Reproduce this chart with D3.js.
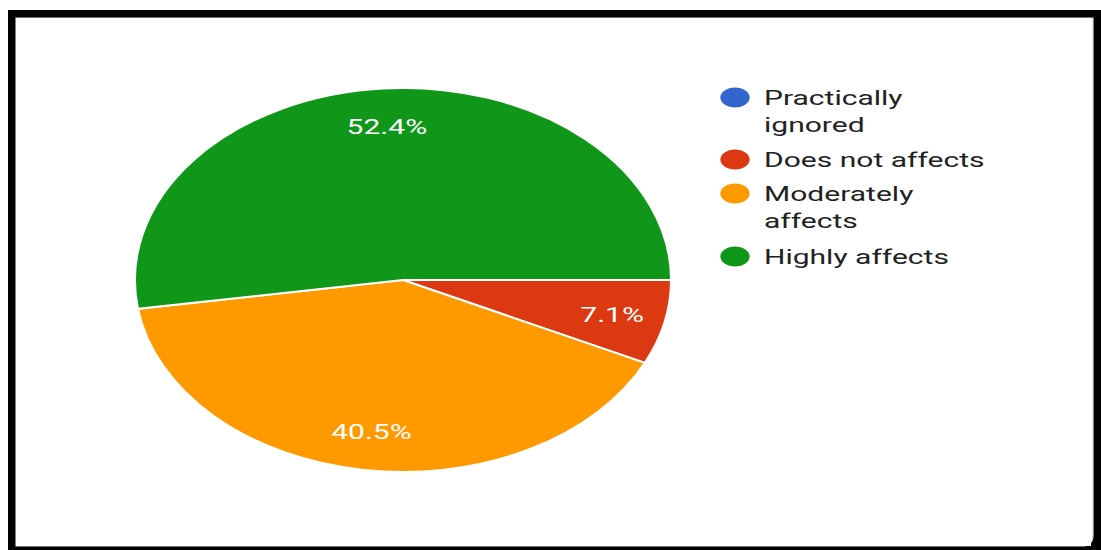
<!DOCTYPE html>
<html>
<head>
<meta charset="utf-8">
<script src="https://cdn.jsdelivr.net/npm/d3@7"></script>
<style>
  html, body { margin: 0; padding: 0; background: #fff; }
  svg { display: block; }
  text { font-family: Roboto, "Noto Sans", sans-serif; }
</style>
</head>
<body>
<svg id="chart" width="1101" height="550"></svg>
<script>
// Survey answers and their shares (percent)
const categories = ["Practically ignored", "Does not affects", "Moderately affects", "Highly affects"];
const legendLines = [["Practically", "ignored"], ["Does not affects"], ["Moderately", "affects"], ["Highly affects"]];
const shares = [0, 7.1, 40.5, 52.4];
const colors = ["#3366cc", "#dc3912", "#ff9900", "#109618"];

const W = 1101, H = 550;
const svg = d3.select("#chart");

// Framed card
svg.append("rect").attr("x", 8).attr("y", 10).attr("width", W - 8).attr("height", H - 10).attr("fill", "#000");
const cx0 = 16, cy0 = 18, cx1 = 1093, cy1 = 546, rc = 11;
svg.append("path")
  .attr("d", `M${cx0},${cy0} H${cx1} V${cy1 - rc} Q${cx1},${cy1} ${cx1 - rc},${cy1} H${cx0} Z`)
  .attr("fill", "#fff")
  .attr("stroke", "#d8d8d8").attr("stroke-width", 1.2);
svg.append("rect").attr("x", cx0).attr("y", cy0).attr("width", cx1 - cx0 - 2).attr("height", cy1 - cy0).attr("fill", "#fff");

// The chart is drawn wider than tall: a horizontal stretch applies to all marks and text
const sx = 1.396;
const tsx = 1.43;
const R = 192;
const center = [403, 280];

const color = d3.scaleOrdinal().domain(categories).range(colors);

const pie = d3.pie()
  .value(d => d.value)
  .sort(null)
  .startAngle(Math.PI / 2)
  .endAngle(Math.PI / 2 + 2 * Math.PI);

const data = categories.map((c, i) => ({ name: c, value: shares[i] }));
const arcs = pie(data);

const arc = d3.arc().innerRadius(0).outerRadius(R);
const labelArc = d3.arc().innerRadius(R * 0.8).outerRadius(R * 0.8);

const g = svg.append("g").attr("transform", `translate(${center[0]},${center[1]})`);
const pieG = g.append("g").attr("transform", `scale(${sx},1)`);

pieG.selectAll("path.slice")
  .data(arcs.filter(d => d.data.value > 0))
  .join("path")
  .attr("class", "slice")
  .attr("d", arc)
  .attr("fill", d => color(d.data.name))
  .attr("stroke", "#fff")
  .attr("stroke-width", 2)
  .attr("vector-effect", "non-scaling-stroke");

g.selectAll("text.pct")
  .data(arcs.filter(d => d.data.value > 0))
  .join("text")
  .attr("class", "pct")
  .attr("transform", d => {
    const [x, y] = labelArc.centroid(d);
    return `translate(${x * sx},${y}) scale(${tsx},1)`;
  })
  .attr("text-anchor", "middle")
  .attr("dy", "0.36em")
  .attr("font-size", 21)
  .attr("fill", "#fff")
  .text(d => d3.format(".1f")(d.data.value) + "%");

// Legend
const legX = 735, textX = 764;
const rowTops = [105, 167, 201, 264]; // first-line baselines
const lineH = 27.5;
const leg = svg.append("g");
categories.forEach((c, i) => {
  leg.append("ellipse")
    .attr("cx", legX).attr("cy", rowTops[i] - 7.5)
    .attr("rx", 10.5 * sx).attr("ry", 10)
    .attr("fill", color(c));
  const t = leg.append("text")
    .attr("transform", `translate(${textX},${rowTops[i]}) scale(${tsx},1)`)
    .attr("font-size", 21)
    .attr("fill", "#222");
  legendLines[i].forEach((line, j) => {
    t.append("tspan").attr("x", 0).attr("y", j * lineH).text(line);
  });
});
</script>
</body>
</html>
